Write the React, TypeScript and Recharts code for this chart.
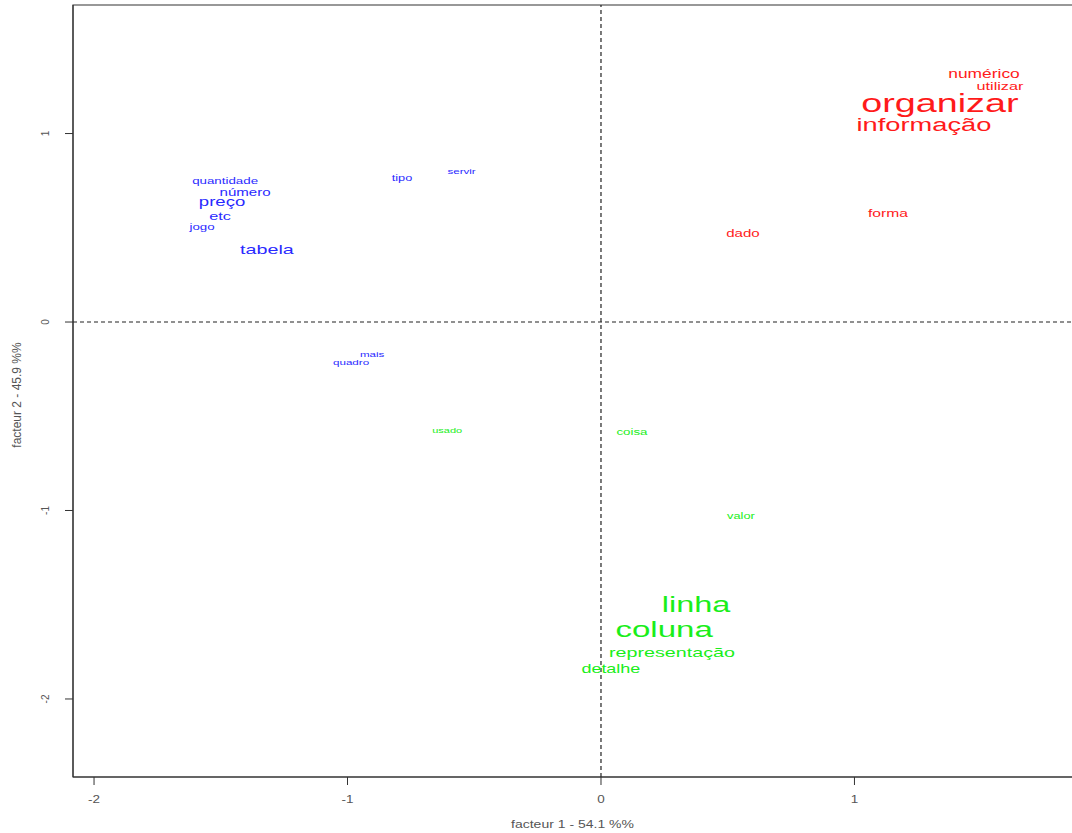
import { ReferenceArea, ReferenceLine, Scatter, ScatterChart, XAxis, YAxis } from 'recharts';

// Analyse factorielle (facteur 1 x facteur 2), mots colorés par classe
const xTicks = [-2, -1, 0, 1];
const yTicks = [-2, -1, 0, 1];
const xDomain: [number, number] = [-2.083, 1.874];
const yDomain: [number, number] = [-2.414, 1.682];

const redWords = ['numérico', 'utilizar', 'organizar', 'informação', 'forma', 'dado'];
const redF1 = [1.511, 1.574, 1.337, 1.274, 1.132, 0.56];
const redF2 = [1.316, 1.252, 1.162, 1.045, 0.578, 0.472];
const redCex = [1.5, 1.4, 3.25, 2.35, 1.35, 1.3];

const greenWords = ['usado', 'coisa', 'valor', 'linha', 'coluna', 'representação', 'detalhe'];
const greenF1 = [-0.607, 0.122, 0.552, 0.375, 0.249, 0.28, 0.039];
const greenF2 = [-0.573, -0.584, -1.029, -1.496, -1.629, -1.756, -1.841];
const greenCex = [0.95, 1.15, 1.1, 2.8, 2.85, 1.7, 1.55];

const blueWords = ['quantidade', 'número', 'preço', 'etc', 'jogo', 'tabela', 'tipo', 'servir', 'mais', 'quadro'];
const blueF1 = [-1.483, -1.404, -1.495, -1.503, -1.574, -1.318, -0.785, -0.55, -0.903, -0.986];
const blueF2 = [0.748, 0.69, 0.637, 0.562, 0.504, 0.382, 0.764, 0.801, -0.17, -0.212];
const blueCex = [1.15, 1.3, 1.6, 1.4, 1.15, 1.7, 1.1, 1.0, 1.0, 1.0];

interface WordRow {
  word: string;
  x: number;
  y: number;
  cex: number;
}

const toRows = (words: string[], f1: number[], f2: number[], cex: number[]): WordRow[] =>
  words.map((word, i) => ({ word, x: f1[i], y: f2[i], cex: cex[i] }));

const FONT = '"Liberation Sans", Arial, Helvetica, sans-serif';
const STRETCH = 1.45;
const AXIS_COLOR = '#333';

function wordShape(color: string) {
  return (props: any) => {
    const { cx, cy, payload } = props;
    if (cx == null || cy == null) return <g />;
    return (
      <text
        transform={`translate(${cx},${cy}) scale(${STRETCH},1)`}
        textAnchor="middle"
        dominantBaseline="central"
        fontFamily={FONT}
        fontSize={payload.cex * 8}
        fill={color}
      >
        {payload.word}
      </text>
    );
  };
}

function XTick({ x, y, payload }: any) {
  return (
    <text
      transform={`translate(${x},${y}) scale(1.35,1)`}
      textAnchor="middle"
      dominantBaseline="central"
      fontFamily={FONT}
      fontSize={10}
      fill="#555"
    >
      {payload.value}
    </text>
  );
}

function YTick({ x, y, payload }: any) {
  return (
    <text
      transform={`translate(${x},${y}) rotate(-90)`}
      textAnchor="middle"
      dominantBaseline="central"
      fontFamily={FONT}
      fontSize={10}
      fill="#555"
    >
      {payload.value}
    </text>
  );
}

export default function App() {
  const red = toRows(redWords, redF1, redF2, redCex);
  const green = toRows(greenWords, greenF1, greenF2, greenCex);
  const blue = toRows(blueWords, blueF1, blueF2, blueCex);

  return (
    <div
      style={{
        position: 'absolute',
        left: 0,
        top: 0,
        width: 1072,
        height: 833,
        overflow: 'hidden',
        background: '#fff',
      }}
    >
      <ScatterChart width={1080} height={833} margin={{ top: 5, right: 4, bottom: 0, left: 0 }}>
        <XAxis
          type="number"
          dataKey="x"
          domain={xDomain}
          allowDataOverflow
          ticks={xTicks}
          tick={<XTick />}
          tickSize={8}
          tickMargin={15}
          height={56}
          stroke={AXIS_COLOR}
          label={{
            content: (p: any) => {
              const vb = p.viewBox ?? { x: 73, y: 777, width: 1003, height: 56 };
              return (
                <text
                  transform={`translate(${vb.x + vb.width / 2 - 2},${vb.y + 48}) scale(1.4,1)`}
                  textAnchor="middle"
                  dominantBaseline="central"
                  fontFamily={FONT}
                  fontSize={10}
                  fill="#555"
                >
                  facteur 1 - 54.1 %%
                </text>
              );
            },
          }}
        />
        <YAxis
          type="number"
          dataKey="y"
          domain={yDomain}
          allowDataOverflow
          ticks={yTicks}
          tick={<YTick />}
          tickSize={8}
          tickMargin={20}
          width={73}
          stroke={AXIS_COLOR}
          label={{
            content: (p: any) => {
              const vb = p.viewBox ?? { x: 0, y: 5, width: 73, height: 772 };
              return (
                <text
                  transform={`translate(${vb.x + 17},${vb.y + vb.height / 2 + 4}) rotate(-90)`}
                  textAnchor="middle"
                  dominantBaseline="central"
                  fontFamily={FONT}
                  fontSize={12}
                  fill="#555"
                >
                  facteur 2 - 45.9 %%
                </text>
              );
            },
          }}
        />
        <ReferenceArea
          x1={xDomain[0]}
          x2={xDomain[1]}
          y1={yDomain[0]}
          y2={yDomain[1]}
          fill="none"
          stroke={AXIS_COLOR}
          strokeWidth={1.2}
        />
        <ReferenceLine x={0} stroke="#222" strokeDasharray="4 3" strokeWidth={1.2} />
        <ReferenceLine y={0} stroke="#222" strokeDasharray="4 3" strokeWidth={1.2} />
        <Scatter name="classe 1" data={red} fill="#ff0000" shape={wordShape('#ff1a1a')} isAnimationActive={false} />
        <Scatter name="classe 2" data={green} fill="#00ee00" shape={wordShape('#1aee1a')} isAnimationActive={false} />
        <Scatter name="classe 3" data={blue} fill="#0000ff" shape={wordShape('#2a2aff')} isAnimationActive={false} />
      </ScatterChart>
    </div>
  );
}
